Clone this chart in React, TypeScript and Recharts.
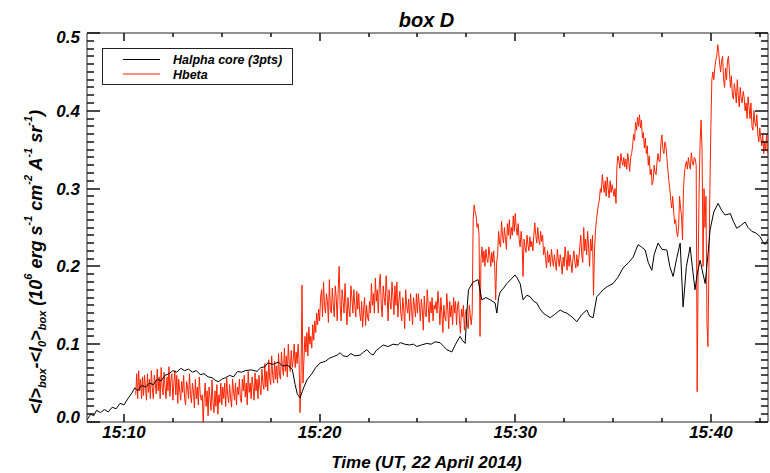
import { LineChart, Line, XAxis, YAxis, ReferenceLine, Legend } from "recharts";

// chart frame
const CHART_W = 762;
const CHART_H = 465;
const MARGIN = { top: 25, right: 2, left: 0, bottom: 0 };
const Y_AXIS_W = 79;
const X_AXIS_H = 51;
const PLOT_X = MARGIN.left + Y_AXIS_W;
const PLOT_Y = MARGIN.top;
const PLOT_W = CHART_W - MARGIN.left - MARGIN.right - Y_AXIS_W;
const PLOT_H = CHART_H - MARGIN.top - MARGIN.bottom - X_AXIS_H;

const FONT = '"Liberation Sans", Arial, Helvetica, sans-serif';
const AXIS = "#222";
const RED = "#ff2200";

// time in minutes after 15:00 UT
const T_MIN = 8.11;
const T_MAX = 42.92;
const Y_MAX = 0.5;

const timeMajorTicks = [10, 20, 30, 40];
const timeTickLabels = ["15:10", "15:20", "15:30", "15:40"];
const timeMinorTicks = [12.5, 15, 17.5, 22.5, 25, 27.5, 32.5, 35, 37.5, 42.5];

const yMajorTicks = [0, 0.1, 0.2, 0.3, 0.4, 0.5];
const yTickLabels = ["0.0", "0.1", "0.2", "0.3", "0.4", "0.5"];
const yMinorStep = 0.01;

// Halpha core (3pts): [minute, value]
const halphaCore: [number, number][] = [
  [8.11, 0.003], [8.3, 0.01], [8.45, 0.008], [8.6, 0.015], [8.8, 0.012], [9.0, 0.016], [9.2, 0.013],
  [9.4, 0.019], [9.6, 0.017], [9.8, 0.024], [10.0, 0.022], [10.2, 0.03], [10.4, 0.037], [10.55, 0.044],
  [10.7, 0.04], [10.9, 0.047], [11.1, 0.045], [11.3, 0.05], [11.5, 0.048], [11.7, 0.055], [11.9, 0.053],
  [12.1, 0.06], [12.3, 0.062], [12.5, 0.066], [12.7, 0.064], [12.9, 0.069], [13.1, 0.066], [13.3, 0.068],
  [13.5, 0.064], [13.7, 0.066], [13.9, 0.061], [14.1, 0.062], [14.3, 0.058], [14.5, 0.057], [14.7, 0.053],
  [14.85, 0.052], [15.0, 0.055], [15.2, 0.057], [15.4, 0.06], [15.6, 0.058], [15.8, 0.065], [16.0, 0.064],
  [16.2, 0.066], [16.5, 0.067], [16.8, 0.065], [17.0, 0.07], [17.2, 0.071], [17.35, 0.076], [17.6, 0.074],
  [17.9, 0.077], [18.1, 0.072], [18.35, 0.073], [18.6, 0.068], [18.75, 0.048], [18.86, 0.036], [19.0, 0.031],
  [19.11, 0.039], [19.2, 0.045], [19.35, 0.054], [19.6, 0.062], [19.8, 0.07], [20.03, 0.076], [20.3, 0.078],
  [20.5, 0.082], [20.7, 0.084], [20.9, 0.086], [21.05, 0.089], [21.2, 0.085], [21.4, 0.084], [21.6, 0.088],
  [21.8, 0.085], [22.07, 0.086], [22.25, 0.09], [22.42, 0.093], [22.6, 0.088], [22.74, 0.086], [22.9, 0.092],
  [23.05, 0.095], [23.25, 0.099], [23.5, 0.097], [23.75, 0.1], [24.0, 0.099], [24.12, 0.102], [24.35, 0.1],
  [24.6, 0.099], [24.8, 0.1], [24.97, 0.097], [25.2, 0.099], [25.48, 0.101], [25.7, 0.1], [25.9, 0.103],
  [26.16, 0.102], [26.35, 0.097], [26.5, 0.093], [26.76, 0.09], [26.95, 0.1], [27.18, 0.11], [27.3, 0.105],
  [27.44, 0.101], [27.55, 0.15], [27.61, 0.17], [27.85, 0.18], [28.1, 0.183], [28.29, 0.157], [28.5, 0.16],
  [28.72, 0.157], [28.97, 0.153], [29.06, 0.14], [29.15, 0.16], [29.23, 0.167], [29.4, 0.172], [29.57, 0.178],
  [29.8, 0.184], [29.99, 0.189], [30.1, 0.185], [30.25, 0.178], [30.4, 0.157], [30.6, 0.163], [30.76, 0.161],
  [30.95, 0.155], [31.1, 0.153], [31.25, 0.146], [31.43, 0.14], [31.6, 0.137], [31.79, 0.134], [32.0, 0.138],
  [32.3, 0.144], [32.5, 0.141], [32.64, 0.14], [32.9, 0.135], [33.15, 0.129], [33.4, 0.138], [33.66, 0.144],
  [33.8, 0.136], [33.98, 0.134], [34.17, 0.161], [34.35, 0.166], [34.49, 0.17], [34.7, 0.174], [34.85, 0.176],
  [35.0, 0.178], [35.25, 0.186], [35.51, 0.198], [35.8, 0.205], [36.03, 0.212], [36.15, 0.22], [36.28, 0.228],
  [36.45, 0.225], [36.64, 0.221], [36.8, 0.205], [36.98, 0.195], [37.1, 0.215], [37.3, 0.23], [37.5, 0.222],
  [37.75, 0.221], [37.9, 0.2], [38.07, 0.187], [38.25, 0.21], [38.43, 0.23], [38.58, 0.148], [38.75, 0.2],
  [38.94, 0.225], [39.05, 0.2], [39.19, 0.17], [39.3, 0.19], [39.45, 0.208], [39.6, 0.19], [39.71, 0.178],
  [39.85, 0.215], [39.96, 0.247], [40.15, 0.27], [40.37, 0.281], [40.55, 0.272], [40.73, 0.266], [40.99, 0.268],
  [41.15, 0.258], [41.32, 0.249], [41.5, 0.252], [41.75, 0.257], [41.9, 0.25], [42.09, 0.245], [42.3, 0.243],
  [42.52, 0.238], [42.65, 0.232], [42.77, 0.228], [42.92, 0.235],
];

// Hbeta, sampled every 0.05 min from 15:10.6 (one row per minute)
const HBETA_START = 10.6;
const HBETA_STEP = 0.05;
const hbetaValues = [
  0.035, 0.062, 0.03, 0.066, 0.04, 0.055, 0.03, 0.058,
  0.034, 0.06, 0.045, 0.028, 0.062, 0.038, 0.055, 0.03, 0.066, 0.044, 0.03, 0.06, 0.05, 0.036, 0.068, 0.04, 0.058, 0.03, 0.07, 0.045,
  0.035, 0.064, 0.045, 0.03, 0.058, 0.04, 0.071, 0.033, 0.055, 0.062, 0.028, 0.05, 0.066, 0.035, 0.06, 0.024, 0.055, 0.04, 0.028, 0.052,
  0.038, 0.06, 0.03, 0.022, 0.052, 0.045, 0.03, 0.062, 0.035, 0.025, 0.05, 0.04, 0.018, 0.055, 0.03, 0.045, 0.022, 0.058, 0.035, 0.028,
  0.035, 0.0, 0.03, 0.05, 0.02, 0.04, 0.008, 0.045, 0.03, 0.015, 0.054, 0.025, 0.012, 0.04, 0.02, 0.048, 0.01, 0.035, 0.025, 0.05,
  0.022, 0.045, 0.03, 0.05, 0.02, 0.057, 0.035, 0.025, 0.048, 0.03, 0.019, 0.055, 0.04, 0.028, 0.05, 0.022, 0.045, 0.035, 0.055, 0.03,
  0.025, 0.055, 0.04, 0.06, 0.032, 0.05, 0.022, 0.065, 0.038, 0.05, 0.03, 0.058, 0.045, 0.028, 0.063, 0.04, 0.055, 0.03, 0.06, 0.045,
  0.035, 0.068, 0.05, 0.042, 0.075, 0.045, 0.065, 0.04, 0.08, 0.055, 0.048, 0.085, 0.06, 0.05, 0.078, 0.055, 0.072, 0.05, 0.088, 0.06,
  0.055, 0.09, 0.07, 0.06, 0.095, 0.065, 0.085, 0.058, 0.1, 0.075, 0.065, 0.092, 0.07, 0.08, 0.1, 0.07, 0.09, 0.075, 0.1, 0.08,
  0.012, 0.06, 0.176, 0.05, 0.08, 0.11, 0.09, 0.115, 0.085, 0.122, 0.1, 0.11, 0.095, 0.125, 0.105, 0.13, 0.115, 0.14, 0.125, 0.145,
  0.13, 0.16, 0.17, 0.135, 0.18, 0.15, 0.14, 0.165, 0.155, 0.128, 0.183, 0.145, 0.14, 0.172, 0.15, 0.135, 0.175, 0.16, 0.13, 0.17,
  0.2, 0.15, 0.13, 0.17, 0.155, 0.14, 0.178, 0.15, 0.125, 0.16, 0.145, 0.135, 0.175, 0.16, 0.14, 0.17, 0.15, 0.135, 0.168, 0.145,
  0.165, 0.14, 0.13, 0.155, 0.122, 0.145, 0.16, 0.124, 0.15, 0.135, 0.13, 0.155, 0.14, 0.178, 0.15, 0.165, 0.14, 0.185, 0.155, 0.17,
  0.14, 0.175, 0.19, 0.15, 0.135, 0.175, 0.16, 0.15, 0.188, 0.165, 0.13, 0.17, 0.155, 0.145, 0.18, 0.16, 0.138, 0.175, 0.15, 0.18,
  0.135, 0.155, 0.168, 0.14, 0.13, 0.16, 0.145, 0.12, 0.17, 0.15, 0.14, 0.158, 0.13, 0.165, 0.145, 0.125, 0.16, 0.15, 0.135, 0.165,
  0.14, 0.165, 0.15, 0.13, 0.158, 0.145, 0.118, 0.162, 0.14, 0.135, 0.17, 0.15, 0.128, 0.155, 0.14, 0.16, 0.13, 0.15, 0.145, 0.155,
  0.14, 0.168, 0.15, 0.125, 0.16, 0.14, 0.115, 0.15, 0.135, 0.13, 0.165, 0.145, 0.12, 0.155, 0.135, 0.15, 0.125, 0.16, 0.14, 0.155,
  0.125, 0.15, 0.155, 0.13, 0.114, 0.145, 0.135, 0.15, 0.118, 0.14, 0.145, 0.125, 0.12, 0.15, 0.138, 0.125, 0.14, 0.26, 0.279, 0.27,
  0.265, 0.25, 0.255, 0.24, 0.11, 0.21, 0.225, 0.205, 0.22, 0.2, 0.222, 0.21, 0.205, 0.225, 0.215, 0.2, 0.218, 0.205, 0.22, 0.2,
  0.157, 0.205, 0.215, 0.245, 0.23, 0.225, 0.258, 0.24, 0.23, 0.25, 0.235, 0.222, 0.255, 0.24, 0.26, 0.235, 0.25, 0.24, 0.265, 0.245,
  0.268, 0.25, 0.24, 0.255, 0.235, 0.225, 0.245, 0.23, 0.187, 0.235, 0.225, 0.218, 0.24, 0.228, 0.22, 0.238, 0.225, 0.232, 0.22, 0.24,
  0.256, 0.24, 0.23, 0.25, 0.235, 0.228, 0.245, 0.232, 0.24, 0.215, 0.225, 0.21, 0.198, 0.22, 0.205, 0.215, 0.2, 0.222, 0.21, 0.2,
  0.215, 0.205, 0.195, 0.222, 0.21, 0.2, 0.215, 0.205, 0.19, 0.212, 0.2, 0.225, 0.21, 0.195, 0.22, 0.2, 0.215, 0.205, 0.192, 0.21,
  0.22, 0.205, 0.198, 0.215, 0.2, 0.21, 0.225, 0.24, 0.215, 0.205, 0.25, 0.22, 0.235, 0.215, 0.245, 0.225, 0.2, 0.235, 0.22, 0.24,
  0.163, 0.22, 0.245, 0.26, 0.27, 0.28, 0.285, 0.3, 0.295, 0.318, 0.305, 0.295, 0.31, 0.29, 0.315, 0.3, 0.288, 0.31, 0.295, 0.305,
  0.298, 0.29, 0.3, 0.281, 0.33, 0.342, 0.335, 0.326, 0.345, 0.335, 0.33, 0.34, 0.328, 0.338, 0.325, 0.345, 0.335, 0.322, 0.34, 0.345,
  0.355, 0.37, 0.362, 0.385, 0.375, 0.392, 0.38, 0.395, 0.378, 0.388, 0.365, 0.372, 0.352, 0.365, 0.345, 0.355, 0.33, 0.342, 0.318, 0.325,
  0.305, 0.31, 0.33, 0.32, 0.318, 0.335, 0.345, 0.335, 0.335, 0.36, 0.369, 0.35, 0.345, 0.36, 0.355, 0.34, 0.325, 0.31, 0.3, 0.285,
  0.275, 0.29, 0.27, 0.255, 0.26, 0.245, 0.238, 0.25, 0.29, 0.275, 0.265, 0.234, 0.3, 0.32, 0.33, 0.335, 0.325, 0.34, 0.33, 0.325,
  0.346, 0.335, 0.33, 0.34, 0.338, 0.33, 0.039, 0.2, 0.3, 0.36, 0.388, 0.35, 0.2, 0.3, 0.25, 0.29, 0.127, 0.097, 0.2, 0.3,
  0.38, 0.44, 0.45, 0.44, 0.455, 0.465, 0.47, 0.485, 0.475, 0.46, 0.45, 0.465, 0.47, 0.44, 0.43, 0.455, 0.44, 0.465, 0.47, 0.45,
  0.43, 0.445, 0.42, 0.415, 0.435, 0.425, 0.41, 0.44, 0.42, 0.405, 0.43, 0.415, 0.41, 0.425, 0.418, 0.4, 0.41, 0.39, 0.418, 0.405,
  0.39, 0.41, 0.38, 0.375, 0.4, 0.385, 0.38, 0.395, 0.37, 0.36, 0.378, 0.365, 0.355, 0.37, 0.345, 0.36, 0.35, 0.37, 0.345,
];

const halphaData = halphaCore.map(([t, v]) => ({ t, v }));
const hbetaData = hbetaValues.map((v, i) => ({ t: HBETA_START + i * HBETA_STEP, v }));

const timeTicks = [...timeMajorTicks, ...timeMinorTicks].sort((a, b) => a - b);
const yTicks = Array.from({ length: 51 }, (_, i) => +(i * yMinorStep).toFixed(2));
const isMajorY = (v: number) => yMajorTicks.some((m) => Math.abs(m - v) < 1e-6);

const textStyle = {
  fontFamily: FONT,
  fontWeight: "bold" as const,
  fontStyle: "italic" as const,
  fill: "#000",
};

const TimeTickLabel = (props: any) => {
  const idx = timeMajorTicks.indexOf(props.payload.value);
  if (idx < 0) return <g />;
  return (
    <text x={props.x} y={Number(props.y) + 16} textAnchor="middle" fontSize={17} {...textStyle}>
      {timeTickLabels[idx]}
    </text>
  );
};

const ValueTickLabel = (props: any) => {
  const v = props.payload.value;
  const idx = yMajorTicks.findIndex((m) => Math.abs(m - v) < 1e-6);
  if (idx < 0) return <g />;
  const shift = v === 0 ? -5 : v === 0.5 ? 4 : 0;
  return (
    <text x={Number(props.x) - 7} y={Number(props.y) + shift + 6} textAnchor="end" fontSize={17} {...textStyle}>
      {yTickLabels[idx]}
    </text>
  );
};

const YTitle = () => {
  const sub = { fontSize: 11 };
  return (
    <text
      transform="translate(34, 254) rotate(-90)"
      textAnchor="middle"
      fontSize={18}
      style={{ whiteSpace: "pre" }}
      {...textStyle}
    >
      <tspan>{"<I>"}</tspan>
      <tspan dy={4} {...sub}>box</tspan>
      <tspan dy={-4}>{"-<I"}</tspan>
      <tspan dy={4} {...sub}>0</tspan>
      <tspan dy={-4}>{">"}</tspan>
      <tspan dy={4} {...sub}>box</tspan>
      <tspan dy={-4}>{" (10"}</tspan>
      <tspan dy={-10} {...sub}>6</tspan>
      <tspan dy={10}>{" erg s"}</tspan>
      <tspan dy={-10} {...sub}>-1</tspan>
      <tspan dy={10}>{" cm"}</tspan>
      <tspan dy={-10} {...sub}>-2</tspan>
      <tspan dy={10}>{" A"}</tspan>
      <tspan dy={-10} {...sub}>-1</tspan>
      <tspan dy={10}>{" sr"}</tspan>
      <tspan dy={-10} {...sub}>-1</tspan>
      <tspan dy={10}>{")"}</tspan>
    </text>
  );
};

const XTitle = () => (
  <text x={418.5} y={460} textAnchor="middle" fontSize={17} {...textStyle}>
    Time (UT, 22 April 2014)
  </text>
);

const LegendBox = () => (
  <svg width={191} height={38} style={{ display: "block" }}>
    <rect x={0.5} y={0.5} width={190} height={36} fill="#fff" stroke={AXIS} />
    <line x1={21} x2={58} y1={11.5} y2={11.5} stroke="#000" />
    <line x1={21} x2={58} y1={26} y2={26} stroke={RED} />
    <text x={71} y={16} fontSize={12.5} {...textStyle}>Halpha core (3pts)</text>
    <text x={71} y={30.5} fontSize={12.5} {...textStyle}>Hbeta</text>
  </svg>
);

// inward tick marks on all four sides, laid over the plot frame
const FrameTicks = () => {
  const px = (t: number) => Math.round(PLOT_X + ((t - T_MIN) / (T_MAX - T_MIN)) * PLOT_W);
  const py = (v: number) => Math.round(PLOT_Y + (1 - v / Y_MAX) * PLOT_H);
  const top = PLOT_Y;
  const bottom = PLOT_Y + PLOT_H;
  const left = PLOT_X;
  const right = PLOT_X + PLOT_W;
  const marks: any[] = [];
  timeTicks.forEach((t) => {
    const len = timeMajorTicks.includes(t) ? 8 : 4;
    const x = px(t);
    marks.push(<rect key={`b${t}`} x={x - 0.75} y={bottom - len} width={1.5} height={len} fill="#111" />);
    marks.push(<rect key={`t${t}`} x={x - 0.75} y={top} width={1.5} height={len} fill="#111" />);
  });
  yTicks.forEach((v) => {
    const len = isMajorY(v) ? 13 : 7;
    const y = py(v);
    marks.push(<rect key={`l${v}`} x={left} y={y - 0.75} width={len} height={1.5} fill="#111" />);
    marks.push(<rect key={`r${v}`} x={right - len} y={y - 0.75} width={len} height={1.5} fill="#111" />);
  });
  return (
    <svg
      width={CHART_W}
      height={CHART_H}
      style={{ position: "absolute", left: 0, top: 0, pointerEvents: "none" }}
    >
      {marks}
    </svg>
  );
};

export default function App() {
  return (
    <div style={{ position: "absolute", left: 8, top: 8, width: CHART_W, height: CHART_H }}>
      <LineChart width={CHART_W} height={CHART_H} margin={MARGIN}>
        <XAxis
          type="number"
          dataKey="t"
          domain={[T_MIN, T_MAX]}
          ticks={timeTicks}
          interval={0}
          height={X_AXIS_H}
          axisLine={{ stroke: AXIS }}
          tickLine={false}
          tickSize={0}
          tickMargin={0}
          tick={TimeTickLabel}
          label={{ content: () => <XTitle /> }}
        />
        <YAxis
          type="number"
          domain={[0, Y_MAX]}
          ticks={yTicks}
          interval={0}
          width={Y_AXIS_W}
          axisLine={{ stroke: AXIS }}
          tickLine={false}
          tickSize={0}
          tickMargin={0}
          tick={ValueTickLabel}
          label={{ content: () => <YTitle /> }}
        />
        <ReferenceLine y={Y_MAX} stroke={AXIS} />
        <ReferenceLine x={T_MAX} stroke={AXIS} />
        <Line
          data={hbetaData}
          dataKey="v"
          type="linear"
          stroke={RED}
          strokeWidth={1}
          dot={false}
          activeDot={false}
          isAnimationActive={false}
        />
        <Line
          data={halphaData}
          dataKey="v"
          type="linear"
          stroke="#000"
          strokeWidth={1}
          dot={false}
          activeDot={false}
          isAnimationActive={false}
        />
        <Legend
          layout="horizontal"
          verticalAlign="middle"
          align="center"
          wrapperStyle={{ left: 94, top: 40, width: 191, height: 38 }}
          content={() => <LegendBox />}
        />
      </LineChart>
      <FrameTicks />
      <svg
        width={CHART_W}
        height={30}
        style={{ position: "absolute", left: 0, top: 0, pointerEvents: "none" }}
      >
        <text x={418.5} y={19} textAnchor="middle" fontSize={20} {...textStyle}>
          box D
        </text>
      </svg>
    </div>
  );
}
